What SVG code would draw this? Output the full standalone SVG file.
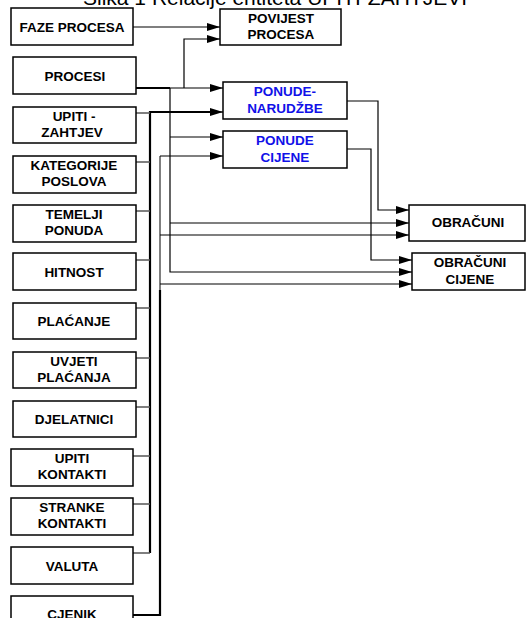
<svg xmlns="http://www.w3.org/2000/svg" width="526" height="618" viewBox="0 0 526 618">
<defs>
<marker id="ar" markerWidth="13" markerHeight="8" refX="13" refY="4" orient="auto" markerUnits="userSpaceOnUse">
<path d="M0,0 L13,4 L0,8 Z" fill="#000"/>
</marker>
<style>
.b{fill:#fff;stroke:#000;stroke-width:1.5}
.t{font-family:"Liberation Sans",Arial,sans-serif;font-weight:bold;font-size:13.5px;text-anchor:middle;fill:#000}
.blue{fill:#1010e8}
.c{fill:none;stroke:#000;stroke-width:1.2}
.g{fill:none;stroke:#555;stroke-width:1.5}
.k{fill:none;stroke:#000;stroke-width:2.2}
.ttl{font-family:"Liberation Sans",Arial,sans-serif;font-size:21px;text-anchor:middle;fill:#000}
</style>
</defs>
<rect width="526" height="618" fill="#fff"/>
<text class="ttl" x="275" y="5">Slika 1 Relacije entiteta UPITI-ZAHTJEVI</text>

<g id="connectors">
<path class="c" d="M133,27 H220" marker-end="url(#ar)"/>
<path class="k" d="M136,88 H170"/>
<path class="c" d="M170,88 H223" marker-end="url(#ar)"/>
<path class="c" d="M184,88 V39 H220" marker-end="url(#ar)"/>
<path class="c" d="M170,88 V272 H412" marker-end="url(#ar)"/>
<path class="c" d="M170,137 H223" marker-end="url(#ar)"/>
<path class="c" d="M170,223 H409" marker-end="url(#ar)"/>
<path class="k" d="M150,553 V112 H212"/>
<path class="c" d="M210,112 H223" marker-end="url(#ar)"/>
<path class="g" d="M136,113 H150"/>
<path class="g" d="M136,162 H150"/>
<path class="g" d="M136,211 H150"/>
<path class="g" d="M136,260 H150"/>
<path class="g" d="M136,308 H150"/>
<path class="g" d="M136,358 H150"/>
<path class="g" d="M136,407 H150"/>
<path class="g" d="M133,456 H150"/>
<path class="g" d="M133,504 H150"/>
<path class="g" d="M133,553 H150"/>
<path class="k" d="M133,615 H160 V290"/>
<path class="g" d="M160,290 V156"/>
<path class="c" d="M160,156 H223" marker-end="url(#ar)"/>
<path class="c" d="M160,235 H409" marker-end="url(#ar)"/>
<path class="c" d="M160,284 H412" marker-end="url(#ar)"/>
<path class="c" d="M347,101 H378 V210 H409" marker-end="url(#ar)"/>
<path class="c" d="M347,149 H371 V260 H412" marker-end="url(#ar)"/>
</g>

<g id="faze-procesa"><rect class="b" x="11" y="8" width="122" height="37"/><text class="t" x="72" y="32">FAZE PROCESA</text></g>
<g id="povijest-procesa"><rect class="b" x="220" y="9" width="121" height="36"/><text class="t" x="281" y="23">POVIJEST</text><text class="t" x="281" y="39">PROCESA</text></g>
<g id="procesi"><rect class="b" x="13" y="57" width="123" height="37"/><text class="t" x="75" y="81">PROCESI</text></g>
<g id="upiti-zahtjev"><rect class="b" x="13" y="107" width="123" height="36"/><text class="t" x="74" y="121">UPITI -</text><text class="t" x="72" y="137">ZAHTJEV</text></g>
<g id="kategorije-poslova"><rect class="b" x="13" y="156" width="123" height="37"/><text class="t" x="74" y="170">KATEGORIJE</text><text class="t" x="74" y="186">POSLOVA</text></g>
<g id="temelji-ponuda"><rect class="b" x="13" y="205" width="123" height="37"/><text class="t" x="74" y="219">TEMELJI</text><text class="t" x="74" y="235">PONUDA</text></g>
<g id="hitnost"><rect class="b" x="13" y="253" width="123" height="37"/><text class="t" x="74" y="277">HITNOST</text></g>
<g id="placanje"><rect class="b" x="13" y="303" width="123" height="36"/><text class="t" x="74" y="326">PLAĆANJE</text></g>
<g id="uvjeti-placanja"><rect class="b" x="13" y="352" width="123" height="36"/><text class="t" x="74" y="366">UVJETI</text><text class="t" x="74" y="382">PLAĆANJA</text></g>
<g id="djelatnici"><rect class="b" x="13" y="401" width="123" height="36"/><text class="t" x="74" y="424">DJELATNICI</text></g>
<g id="upiti-kontakti"><rect class="b" x="11" y="449" width="122" height="37"/><text class="t" x="72" y="463">UPITI</text><text class="t" x="72" y="479">KONTAKTI</text></g>
<g id="stranke-kontakti"><rect class="b" x="11" y="498" width="122" height="37"/><text class="t" x="72" y="512">STRANKE</text><text class="t" x="72" y="528">KONTAKTI</text></g>
<g id="valuta"><rect class="b" x="11" y="547" width="122" height="37"/><text class="t" x="72" y="571">VALUTA</text></g>
<g id="cjenik"><rect class="b" x="11" y="596" width="122" height="37"/><text class="t" x="72" y="619">CJENIK</text></g>
<g id="ponude-narudzbe"><rect class="b" x="223" y="82" width="124" height="37"/><text class="t blue" x="285" y="96">PONUDE-</text><text class="t blue" x="285" y="113">NARUDŽBE</text></g>
<g id="ponude-cijene"><rect class="b" x="223" y="131" width="124" height="37"/><text class="t blue" x="285" y="145">PONUDE</text><text class="t blue" x="285" y="162">CIJENE</text></g>
<g id="obracuni"><rect class="b" x="409" y="205" width="116" height="36"/><text class="t" x="468" y="227">OBRAČUNI</text></g>
<g id="obracuni-cijene"><rect class="b" x="412" y="253" width="113" height="37"/><text class="t" x="470" y="267">OBRAČUNI</text><text class="t" x="470" y="284">CIJENE</text></g>
</svg>
